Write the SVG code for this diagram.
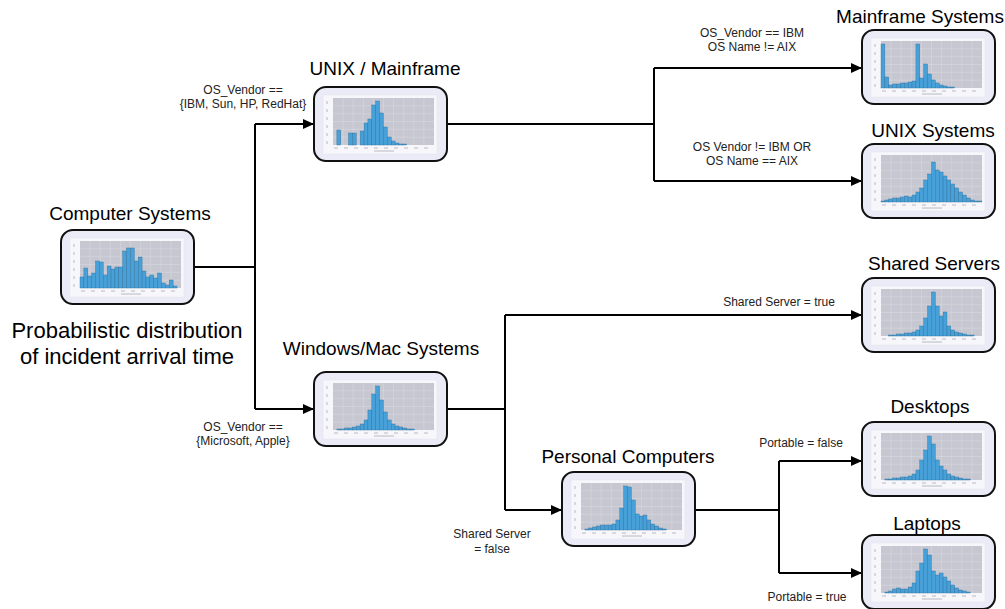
<svg xmlns="http://www.w3.org/2000/svg" xmlns:xlink="http://www.w3.org/1999/xlink" width="1005" height="609" viewBox="0 0 1005 609">
<style>
text{font-family:"Liberation Sans",Arial,sans-serif;fill:#000}
.t{font-size:19px;text-anchor:middle}
.l{font-size:12px;text-anchor:middle;fill:#222}
.big{font-size:22px;text-anchor:middle}
.box{fill:#ebebf8;stroke:#111;stroke-width:2}
.b rect{fill:#48a0d8;stroke:#2c6f9c;stroke-width:0.4}
.c{fill:none;stroke:#000;stroke-width:2}
.a{fill:none;stroke:#000;stroke-width:2;marker-end:url(#ah)}
</style>
<defs>
<marker id="ah" markerUnits="userSpaceOnUse" markerWidth="12" markerHeight="10" refX="11" refY="5" orient="auto">
<path d="M0 0L11 5L0 10z" fill="#000"/>
</marker>
<symbol id="bg" overflow="visible">
<rect x="9" y="8" width="114" height="59" fill="#f7f7fb" stroke="#e2e2ea" stroke-width="0.5"/>
<rect x="19" y="11" width="101" height="47" fill="#c7c7d1"/>
<path d="M29.1 11V58M39.2 11V58M49.3 11V58M59.4 11V58M69.5 11V58M79.6 11V58M89.7 11V58M99.8 11V58M109.9 11V58M19 18.8H120M19 26.7H120M19 34.5H120M19 42.3H120M19 50.2H120" stroke="#dadae3" stroke-width="0.5" fill="none"/>
<path d="M20 61h4M30 61h4M40 61h4M50 61h4M60 61h4M70 61h4M80 61h4M90 61h4M100 61h4M110 61h4M60 64h20M13 14v3M13 22v3M13 30v3M13 38v3M13 46v3M13 54v3" stroke="#a8a8b4" stroke-width="0.8" fill="none"/>
</symbol>
</defs>

<g id="connectors">
<path class="c" d="M194 267H255M255 124V409"/>
<path class="a" d="M255 124H314"/>
<path class="a" d="M255 409H314"/>
<path class="c" d="M446 124H654M654 68V181"/>
<path class="a" d="M654 68H862"/>
<path class="a" d="M654 181H862"/>
<path class="c" d="M446 409H505M505 315V510"/>
<path class="a" d="M505 315H862"/>
<path class="a" d="M505 510H562"/>
<path class="c" d="M695 510H779M779 461V573"/>
<path class="a" d="M779 461H862"/>
<path class="a" d="M779 573H862"/>
</g>

<g id="labels">
<text class="l" x="243" y="94">OS_Vendor ==</text>
<text class="l" x="243" y="108">{IBM, Sun, HP, RedHat}</text>
<text class="l" x="243" y="431">OS_Vendor ==</text>
<text class="l" x="243" y="445">{Microsoft, Apple}</text>
<text class="l" x="752" y="37">OS_Vendor == IBM</text>
<text class="l" x="752" y="51">OS Name != AIX</text>
<text class="l" x="752" y="151">OS Vendor != IBM OR</text>
<text class="l" x="752" y="165">OS Name == AIX</text>
<text class="l" x="779" y="306">Shared Server = true</text>
<text class="l" x="492" y="538">Shared Server</text>
<text class="l" x="492" y="553">= false</text>
<text class="l" x="801" y="447">Portable = false</text>
<text class="l" x="807" y="601">Portable = true</text>
<text class="big" x="127" y="338">Probabilistic distribution</text>
<text class="big" x="127" y="364">of incident arrival time</text>
</g>

<g id="computer-systems">
<text class="t" x="130" y="220">Computer Systems</text>
<g transform="translate(61,230)">
<rect class="box" width="133" height="74" rx="12"/>
<use xlink:href="#bg"/>
<g class="b" transform="translate(19,58) scale(0.97,-1)">
<rect x="0" width="4" height="11"/><rect x="4" width="4" height="20"/><rect x="8" width="4" height="12"/><rect x="12" width="4" height="15"/><rect x="16" width="4" height="27"/><rect x="20" width="4" height="26"/><rect x="24" width="4" height="13"/><rect x="28" width="4" height="22"/><rect x="32" width="4" height="19"/><rect x="36" width="4" height="21"/><rect x="40" width="4" height="21"/><rect x="44" width="4" height="37"/><rect x="48" width="4" height="40"/><rect x="52" width="4" height="40"/><rect x="56" width="4" height="27"/><rect x="60" width="4" height="31"/><rect x="64" width="4" height="17"/><rect x="68" width="4" height="11"/><rect x="72" width="4" height="13"/><rect x="76" width="4" height="10"/><rect x="80" width="4" height="15"/><rect x="84" width="4" height="5"/><rect x="88" width="4" height="3"/><rect x="92" width="4" height="8"/><rect x="96" width="4" height="2"/>
</g>
</g>
</g>

<g id="unix-mainframe">
<text class="t" x="385" y="75">UNIX / Mainframe</text>
<g transform="translate(314,87)">
<rect class="box" width="133" height="74" rx="12"/>
<use xlink:href="#bg"/>
<g class="b" transform="translate(19,58) scale(0.97,-1)">
<rect x="4" width="4" height="15"/><rect x="16" width="4" height="12"/><rect x="20" width="4" height="12"/><rect x="28" width="4" height="14"/><rect x="32" width="4" height="22"/><rect x="36" width="4" height="26"/><rect x="40" width="4" height="40"/><rect x="44" width="4" height="44"/><rect x="48" width="4" height="32"/><rect x="52" width="4" height="18"/><rect x="56" width="4" height="8"/><rect x="60" width="4" height="4"/><rect x="64" width="4" height="2"/><rect x="68" width="4" height="1"/><rect x="72" width="4" height="1"/>
</g>
</g>
</g>

<g id="windows-mac">
<text class="t" x="381" y="355">Windows/Mac Systems</text>
<g transform="translate(314,372)">
<rect class="box" width="133" height="74" rx="12"/>
<use xlink:href="#bg"/>
<g class="b" transform="translate(19,58) scale(0.97,-1)">
<rect x="4" width="4" height="1"/><rect x="8" width="4" height="1"/><rect x="12" width="4" height="2"/><rect x="16" width="4" height="2"/><rect x="20" width="4" height="3"/><rect x="24" width="4" height="4"/><rect x="28" width="4" height="6"/><rect x="32" width="4" height="10"/><rect x="36" width="4" height="20"/><rect x="40" width="4" height="36"/><rect x="44" width="4" height="44"/><rect x="48" width="4" height="30"/><rect x="52" width="4" height="18"/><rect x="56" width="4" height="10"/><rect x="60" width="4" height="6"/><rect x="64" width="4" height="4"/><rect x="68" width="4" height="3"/><rect x="72" width="4" height="2"/><rect x="76" width="4" height="1"/><rect x="80" width="4" height="1"/>
</g>
</g>
</g>

<g id="personal-computers">
<text class="t" x="628" y="463">Personal Computers</text>
<g transform="translate(562,472)">
<rect class="box" width="133" height="74" rx="12"/>
<use xlink:href="#bg"/>
<g class="b" transform="translate(19,58) scale(0.97,-1)">
<rect x="4" width="4" height="1"/><rect x="8" width="4" height="2"/><rect x="12" width="4" height="3"/><rect x="16" width="4" height="4"/><rect x="20" width="4" height="5"/><rect x="24" width="4" height="5"/><rect x="28" width="4" height="5"/><rect x="32" width="4" height="6"/><rect x="36" width="4" height="10"/><rect x="40" width="4" height="22"/><rect x="44" width="4" height="44"/><rect x="48" width="4" height="43"/><rect x="52" width="4" height="30"/><rect x="56" width="4" height="16"/><rect x="60" width="4" height="14"/><rect x="64" width="4" height="15"/><rect x="68" width="4" height="10"/><rect x="72" width="4" height="6"/><rect x="76" width="4" height="4"/><rect x="80" width="4" height="2"/><rect x="84" width="4" height="1"/>
</g>
</g>
</g>

<g id="mainframe-systems">
<text class="t" x="920" y="23">Mainframe Systems</text>
<g transform="translate(862,30)">
<rect class="box" width="133" height="74" rx="12"/>
<use xlink:href="#bg"/>
<g class="b" transform="translate(19,58) scale(0.97,-1)">
<rect x="0" width="4" height="44"/><rect x="4" width="4" height="11"/><rect x="8" width="4" height="3"/><rect x="12" width="4" height="4"/><rect x="16" width="4" height="4"/><rect x="20" width="4" height="5"/><rect x="24" width="4" height="5"/><rect x="28" width="4" height="6"/><rect x="32" width="4" height="7"/><rect x="36" width="4" height="44"/><rect x="40" width="4" height="10"/><rect x="44" width="4" height="24"/><rect x="48" width="4" height="14"/><rect x="52" width="4" height="8"/><rect x="56" width="4" height="5"/><rect x="60" width="4" height="3"/><rect x="64" width="4" height="2"/><rect x="68" width="4" height="1"/><rect x="72" width="4" height="1"/>
</g>
</g>
</g>

<g id="unix-systems">
<text class="t" x="933" y="137">UNIX Systems</text>
<g transform="translate(862,144)">
<rect class="box" width="133" height="74" rx="12"/>
<use xlink:href="#bg"/>
<g class="b" transform="translate(19,58) scale(0.97,-1)">
<rect x="0" width="4" height="1"/><rect x="4" width="4" height="2"/><rect x="8" width="4" height="3"/><rect x="12" width="4" height="4"/><rect x="16" width="4" height="4"/><rect x="20" width="4" height="5"/><rect x="24" width="4" height="6"/><rect x="28" width="4" height="5"/><rect x="32" width="4" height="7"/><rect x="36" width="4" height="10"/><rect x="40" width="4" height="14"/><rect x="44" width="4" height="22"/><rect x="48" width="4" height="28"/><rect x="52" width="4" height="40"/><rect x="56" width="4" height="32"/><rect x="60" width="4" height="30"/><rect x="64" width="4" height="26"/><rect x="68" width="4" height="22"/><rect x="72" width="4" height="18"/><rect x="76" width="4" height="14"/><rect x="80" width="4" height="10"/><rect x="84" width="4" height="7"/><rect x="88" width="4" height="4"/><rect x="92" width="4" height="2"/><rect x="96" width="4" height="1"/><rect x="100" width="4" height="1"/>
</g>
</g>
</g>

<g id="shared-servers">
<text class="t" x="934" y="270">Shared Servers</text>
<g transform="translate(862,278)">
<rect class="box" width="133" height="74" rx="12"/>
<use xlink:href="#bg"/>
<g class="b" transform="translate(19,58) scale(0.97,-1)">
<rect x="8" width="4" height="1"/><rect x="12" width="4" height="1"/><rect x="16" width="4" height="2"/><rect x="20" width="4" height="2"/><rect x="24" width="4" height="3"/><rect x="28" width="4" height="3"/><rect x="32" width="4" height="4"/><rect x="36" width="4" height="6"/><rect x="40" width="4" height="10"/><rect x="44" width="4" height="18"/><rect x="48" width="4" height="30"/><rect x="52" width="4" height="44"/><rect x="56" width="4" height="30"/><rect x="60" width="4" height="20"/><rect x="64" width="4" height="24"/><rect x="68" width="4" height="10"/><rect x="72" width="4" height="6"/><rect x="76" width="4" height="4"/><rect x="80" width="4" height="3"/><rect x="84" width="4" height="2"/><rect x="88" width="4" height="1"/><rect x="92" width="4" height="1"/>
</g>
</g>
</g>

<g id="desktops">
<text class="t" x="930" y="413">Desktops</text>
<g transform="translate(862,422)">
<rect class="box" width="133" height="74" rx="12"/>
<use xlink:href="#bg"/>
<g class="b" transform="translate(19,58) scale(0.97,-1)">
<rect x="4" width="4" height="1"/><rect x="8" width="4" height="1"/><rect x="12" width="4" height="2"/><rect x="16" width="4" height="2"/><rect x="20" width="4" height="3"/><rect x="24" width="4" height="3"/><rect x="28" width="4" height="4"/><rect x="32" width="4" height="6"/><rect x="36" width="4" height="10"/><rect x="40" width="4" height="20"/><rect x="44" width="4" height="30"/><rect x="48" width="4" height="44"/><rect x="52" width="4" height="36"/><rect x="56" width="4" height="20"/><rect x="60" width="4" height="14"/><rect x="64" width="4" height="10"/><rect x="68" width="4" height="6"/><rect x="72" width="4" height="4"/><rect x="76" width="4" height="3"/><rect x="80" width="4" height="2"/><rect x="84" width="4" height="1"/><rect x="88" width="4" height="1"/>
</g>
</g>
</g>

<g id="laptops">
<text class="t" x="927" y="530">Laptops</text>
<g transform="translate(862,535)">
<rect class="box" width="133" height="74" rx="12"/>
<use xlink:href="#bg"/>
<g class="b" transform="translate(19,58) scale(0.97,-1)">
<rect x="4" width="4" height="1"/><rect x="8" width="4" height="2"/><rect x="12" width="4" height="4"/><rect x="16" width="4" height="5"/><rect x="20" width="4" height="4"/><rect x="24" width="4" height="4"/><rect x="28" width="4" height="6"/><rect x="32" width="4" height="10"/><rect x="36" width="4" height="22"/><rect x="40" width="4" height="30"/><rect x="44" width="4" height="44"/><rect x="48" width="4" height="38"/><rect x="52" width="4" height="22"/><rect x="56" width="4" height="18"/><rect x="60" width="4" height="20"/><rect x="64" width="4" height="16"/><rect x="68" width="4" height="12"/><rect x="72" width="4" height="8"/><rect x="76" width="4" height="5"/><rect x="80" width="4" height="3"/><rect x="84" width="4" height="2"/><rect x="88" width="4" height="1"/>
</g>
</g>
</g>
</svg>
